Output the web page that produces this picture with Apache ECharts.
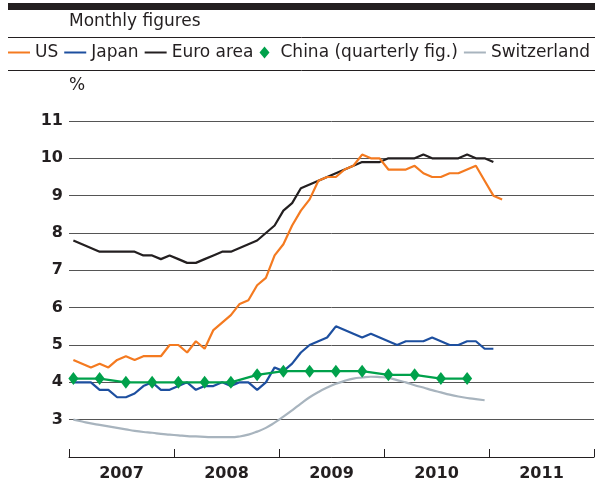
<!DOCTYPE html>
<html>
<head>
<meta charset="utf-8">
<script src="https://cdn.jsdelivr.net/npm/echarts@6/dist/echarts.min.js"></script>
<style>
  html, body { margin: 0; padding: 0; background: #fff; }
  #chart { width: 595px; height: 486px; }
</style>
</head>
<body>
<div id="chart"></div>
<script>
// monthly, Jan 2007 onwards (% of labour force)
const years = ['2007', '2008', '2009', '2010', '2011'];

const us = [
  4.6, 4.5, 4.4, 4.5, 4.4, 4.6, 4.7, 4.6, 4.7, 4.7, 4.7, 5.0,
  5.0, 4.8, 5.1, 4.9, 5.4, 5.6, 5.8, 6.1, 6.2, 6.6, 6.8, 7.4,
  7.7, 8.2, 8.6, 8.9, 9.4, 9.5, 9.5, 9.7, 9.8, 10.1, 10.0, 10.0,
  9.7, 9.7, 9.7, 9.8, 9.6, 9.5, 9.5, 9.6, 9.6, 9.7, 9.8, 9.4,
  9.0, 8.9
];

const japan = [
  4.0, 4.0, 4.0, 3.8, 3.8, 3.6, 3.6, 3.7, 3.9, 4.0, 3.8, 3.8,
  3.9, 4.0, 3.8, 3.9, 3.9, 4.0, 3.9, 4.0, 4.0, 3.8, 4.0, 4.4,
  4.3, 4.5, 4.8, 5.0, 5.1, 5.2, 5.5, 5.4, 5.3, 5.2, 5.3, 5.2,
  5.1, 5.0, 5.1, 5.1, 5.1, 5.2, 5.1, 5.0, 5.0, 5.1, 5.1, 4.9,
  4.9
];

const euroArea = [
  7.8, 7.7, 7.6, 7.5, 7.5, 7.5, 7.5, 7.5, 7.4, 7.4, 7.3, 7.4,
  7.3, 7.2, 7.2, 7.3, 7.4, 7.5, 7.5, 7.6, 7.7, 7.8, 8.0, 8.2,
  8.6, 8.8, 9.2, 9.3, 9.4, 9.5, 9.6, 9.7, 9.8, 9.9, 9.9, 9.9,
  10.0, 10.0, 10.0, 10.0, 10.1, 10.0, 10.0, 10.0, 10.0, 10.1, 10.0, 10.0,
  9.9
];

const switzerland = [
  3.0, 2.95, 2.9, 2.86, 2.82, 2.78, 2.74, 2.7, 2.67, 2.65, 2.62, 2.6,
  2.58, 2.56, 2.55, 2.54, 2.53, 2.53, 2.53, 2.55, 2.6, 2.68, 2.78, 2.92,
  3.08, 3.25, 3.43, 3.6, 3.74, 3.86, 3.96, 4.04, 4.1, 4.13, 4.15, 4.14,
  4.12, 4.06, 4.0, 3.92, 3.86, 3.79, 3.73, 3.67, 3.62, 3.58, 3.55, 3.52
];

// quarterly, Q1 2007 onwards
const china = [4.1, 4.1, 4.0, 4.0, 4.0, 4.0, 4.0, 4.2, 4.3, 4.3, 4.3, 4.3, 4.2, 4.2, 4.1, 4.1];

const FONT = 'DejaVu Sans';
const INK = '#231f20';
const COLORS = { us: '#f47a20', japan: '#1d4f9f', euro: '#231f20', china: '#00a14b', swiss: '#a8b4be' };

// month index -> x at the middle of the month
const monthly = arr => arr.map((v, i) => [i + 0.5, v]);
const quarterly = arr => arr.map((v, i) => [i * 3 + 0.5, v]);

const lineIcon = 'path://M0,0H22V2H0Z';
const diamondIcon = 'path://M5,0L10,6L5,12L0,6Z';

const lineSeries = (name, data, color, extra = {}) => Object.assign({
  name,
  type: 'line',
  data,
  symbol: 'none',
  color,
  lineStyle: { color, width: 2.2 },
  animation: false,
  z: 3
}, extra);

const chart = echarts.init(document.getElementById('chart'), null, { renderer: 'canvas' });

chart.setOption({
  backgroundColor: '#fff',
  textStyle: { fontFamily: FONT, color: INK },
  animation: false,
  graphic: [
    { type: 'rect', shape: { x: 8, y: 3, width: 587, height: 7 }, style: { fill: INK } },
    { type: 'text', left: 69, top: 13, style: { text: 'Monthly figures', font: '17px ' + FONT, fill: INK } },
    { type: 'line', shape: { x1: 8, y1: 37.5, x2: 595, y2: 37.5 }, style: { stroke: INK, lineWidth: 1 } },
    { type: 'line', shape: { x1: 8, y1: 70.5, x2: 595, y2: 70.5 }, style: { stroke: INK, lineWidth: 1 } },
    { type: 'text', left: 69, top: 77, style: { text: '%', font: '17px ' + FONT, fill: INK } }
  ],
  legend: {
    left: 8,
    top: 44,
    itemWidth: 22,
    itemHeight: 12,
    itemGap: 6,
    padding: 0,
    symbolKeepAspect: true,
    textStyle: { fontFamily: FONT, fontSize: 17, color: INK },
    data: [
      { name: 'US', icon: lineIcon },
      { name: 'Japan', icon: lineIcon },
      { name: 'Euro area', icon: lineIcon },
      { name: 'China (quarterly fig.)', icon: diamondIcon },
      { name: 'Switzerland', icon: lineIcon }
    ]
  },
  grid: { left: 69, top: 121, width: 525, height: 336 },
  xAxis: [
    {
      type: 'value',
      min: 0,
      max: 60,
      interval: 12,
      axisLine: { show: true, lineStyle: { color: INK, width: 1 } },
      axisTick: { show: true, inside: true, length: 8, lineStyle: { color: INK, width: 1 } },
      axisLabel: { show: false },
      splitLine: { show: false }
    },
    {
      type: 'category',
      data: years,
      position: 'bottom',
      boundaryGap: true,
      axisLine: { show: false },
      axisTick: { show: false },
      axisLabel: { fontFamily: FONT, fontSize: 16, fontWeight: 'bold', color: INK, margin: 9 },
      splitLine: { show: false }
    }
  ],
  yAxis: {
    type: 'value',
    min: 2,
    max: 11,
    interval: 1,
    axisLine: { show: false },
    axisTick: { show: false },
    axisLabel: {
      fontFamily: FONT, fontSize: 16, fontWeight: 'bold', color: INK, margin: 6,
      formatter: v => (v === 2 ? '' : String(v))
    },
    splitLine: { lineStyle: { color: '#555', width: 1 } }
  },
  series: [
    lineSeries('Switzerland', monthly(switzerland), COLORS.swiss, { smooth: 0.5, z: 2 }),
    lineSeries('Euro area', monthly(euroArea), COLORS.euro),
    lineSeries('US', monthly(us), COLORS.us),
    lineSeries('Japan', monthly(japan), COLORS.japan),
    lineSeries('China (quarterly fig.)', quarterly(china), COLORS.china, {
      symbol: 'diamond',
      symbolSize: [10, 13],
      showSymbol: true,
      itemStyle: { color: COLORS.china },
      z: 4
    })
  ]
});
</script>
</body>
</html>
